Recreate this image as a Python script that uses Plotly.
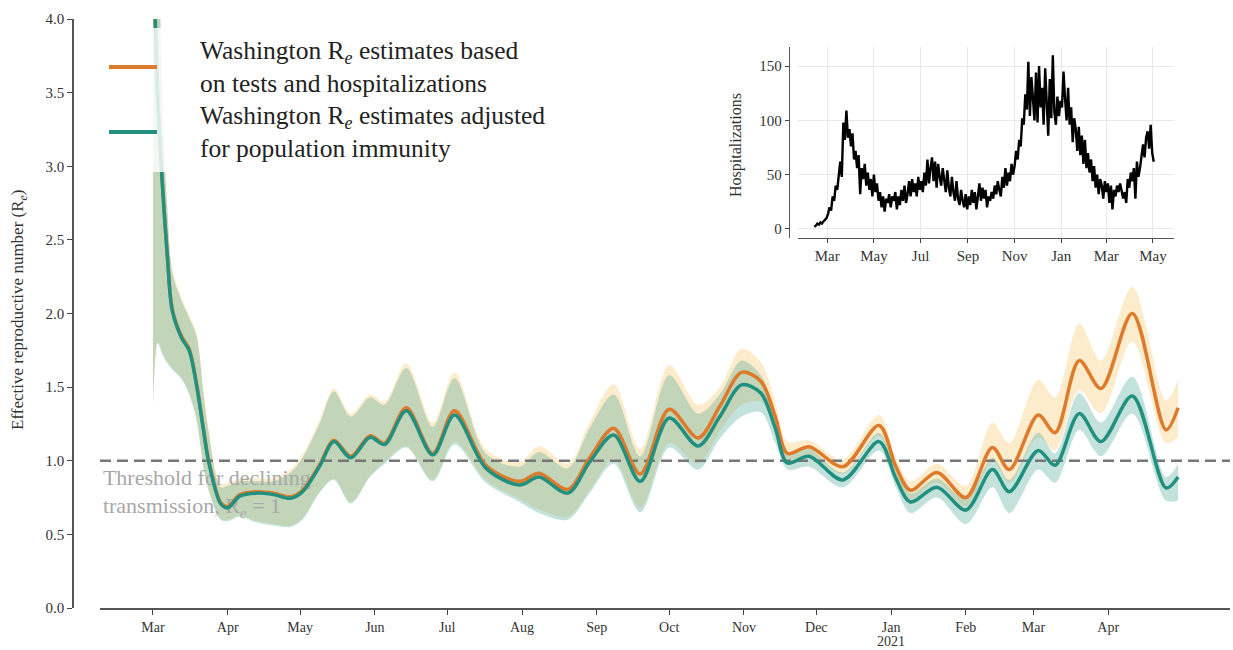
import plotly.graph_objects as go
import pandas as pd

W, H = 1233, 650
FONT = "Liberation Serif"

# ---------------- main chart data ----------------
DATES = [
    "2020-03-01", "2020-03-03", "2020-03-05", "2020-03-07", "2020-03-09", "2020-03-13",
    "2020-03-16", "2020-03-19", "2020-03-22", "2020-03-24", "2020-03-29", "2020-04-01",
    "2020-04-06", "2020-04-13", "2020-04-20", "2020-04-27", "2020-05-02", "2020-05-09",
    "2020-05-15", "2020-05-22", "2020-05-30", "2020-06-05", "2020-06-14", "2020-06-25",
    "2020-07-04", "2020-07-17", "2020-07-31", "2020-08-08", "2020-08-20", "2020-08-29",
    "2020-09-08", "2020-09-19", "2020-10-01", "2020-10-13", "2020-10-22", "2020-10-31",
    "2020-11-08", "2020-11-14", "2020-11-19", "2020-11-28", "2020-12-12", "2020-12-27",
    "2021-01-03", "2021-01-09", "2021-01-20", "2021-02-01", "2021-02-12", "2021-02-19",
    "2021-03-03", "2021-03-10", "2021-03-20", "2021-03-29", "2021-04-11", "2021-04-25",
    "2021-04-30",
]
RE_TESTS = [
    4.6, 3.46, 2.86, 2.39, 2.03, 1.84, 1.76, 1.53, 1.21, 1.01, 0.72, 0.69,
    0.77, 0.79, 0.78, 0.755, 0.80, 0.97, 1.14, 1.03, 1.17, 1.12, 1.36, 1.05,
    1.34, 0.97, 0.86, 0.915, 0.805, 1.02, 1.22, 0.91, 1.35, 1.155, 1.37, 1.60,
    1.54, 1.30, 1.05, 1.095, 0.96, 1.24, 0.96, 0.80, 0.92, 0.75, 1.09, 0.94,
    1.31, 1.19, 1.68, 1.49, 2.00, 1.21, 1.36,
]
RE_TESTS_LO = [
    1.38, 1.81, 1.73, 1.67, 1.63, 1.56, 1.46, 1.29, 0.96, 0.81, 0.61, 0.60,
    0.63, 0.59, 0.57, 0.56, 0.61, 0.79, 0.88, 0.72, 0.90, 0.99, 1.10, 0.87,
    1.13, 0.87, 0.74, 0.67, 0.62, 0.80, 1.01, 0.68, 1.12, 0.98, 1.20, 1.38,
    1.40, 1.20, 0.98, 1.04, 0.91, 1.17, 0.90, 0.74, 0.85, 0.69, 1.00, 0.85,
    1.16, 1.07, 1.48, 1.32, 1.81, 1.12, 1.16,
]
RE_TESTS_HI = [
    5.0, 4.6, 3.42, 2.72, 2.30, 2.10, 1.99, 1.87, 1.47, 1.22, 0.84, 0.85,
    0.88, 0.88, 0.88, 0.94, 1.04, 1.27, 1.49, 1.32, 1.45, 1.40, 1.66, 1.26,
    1.60, 1.08, 0.99, 1.10, 0.98, 1.26, 1.52, 1.08, 1.65, 1.38, 1.50, 1.76,
    1.67, 1.40, 1.13, 1.14, 1.01, 1.31, 1.02, 0.86, 0.98, 0.83, 1.26, 1.12,
    1.55, 1.43, 1.93, 1.68, 2.18, 1.41, 1.55,
]
RE_IMMUNE = [
    4.6, 3.45, 2.85, 2.38, 2.02, 1.83, 1.75, 1.52, 1.20, 1.00, 0.71, 0.68,
    0.76, 0.78, 0.77, 0.745, 0.79, 0.96, 1.13, 1.02, 1.16, 1.11, 1.34, 1.04,
    1.31, 0.95, 0.835, 0.89, 0.78, 0.99, 1.175, 0.86, 1.29, 1.10, 1.30, 1.515,
    1.46, 1.22, 0.985, 1.03, 0.87, 1.13, 0.88, 0.72, 0.82, 0.665, 0.94, 0.79,
    1.07, 0.97, 1.32, 1.13, 1.44, 0.815, 0.89,
]
RE_IMMUNE_LO = [
    1.37, 1.80, 1.72, 1.66, 1.62, 1.55, 1.45, 1.28, 0.95, 0.80, 0.60, 0.59,
    0.62, 0.58, 0.56, 0.55, 0.60, 0.78, 0.87, 0.71, 0.89, 0.98, 1.09, 0.86,
    1.11, 0.85, 0.72, 0.645, 0.60, 0.78, 0.98, 0.65, 1.09, 0.94, 1.15, 1.30,
    1.33, 1.12, 0.94, 0.96, 0.82, 1.07, 0.82, 0.645, 0.75, 0.57, 0.82, 0.645,
    0.94, 0.85, 1.21, 1.03, 1.32, 0.73, 0.73,
]
RE_IMMUNE_HI = [
    5.0, 4.6, 3.40, 2.70, 2.28, 2.08, 1.97, 1.85, 1.45, 1.20, 0.82, 0.83,
    0.86, 0.86, 0.86, 0.92, 1.02, 1.25, 1.47, 1.30, 1.43, 1.38, 1.63, 1.23,
    1.56, 1.05, 0.96, 1.06, 0.95, 1.22, 1.45, 1.03, 1.58, 1.32, 1.45, 1.68,
    1.58, 1.32, 1.05, 1.08, 0.92, 1.19, 0.93, 0.78, 0.88, 0.74, 1.02, 0.87,
    1.19, 1.05, 1.46, 1.26, 1.57, 0.89, 0.98,
]
THRESHOLD = 1.0

MONTH_TICKS = [
    "2020-03-01", "2020-04-01", "2020-05-01", "2020-06-01", "2020-07-01", "2020-08-01",
    "2020-09-01", "2020-10-01", "2020-11-01", "2020-12-01", "2021-01-01", "2021-02-01",
    "2021-03-01", "2021-04-01",
]
MONTH_LABELS = ["Mar", "Apr", "May", "Jun", "Jul", "Aug", "Sep", "Oct", "Nov", "Dec",
                "Jan", "Feb", "Mar", "Apr"]
YEAR_LABEL = ("2021-01-01", "2021")
Y_TICKS = [0.0, 0.5, 1.0, 1.5, 2.0, 2.5, 3.0, 3.5, 4.0]

LEGEND_TESTS = "Washington R<sub><i>e</i></sub> estimates based<br>on tests and hospitalizations"
LEGEND_IMMUNE = "Washington R<sub><i>e</i></sub> estimates adjusted<br>for population immunity"

# ---------------- inset data (every 2nd day from 2020-02-13) ----------------
HOSP_START = "2020-02-13"
HOSP = [
    # Feb 2020
    2, 3, 5, 4, 6, 5, 7, 9, 10,
    # Mar
    14, 20, 17, 30, 26, 40, 36, 52, 62, 48, 98, 82, 109, 84, 92,
    # Apr
    76, 88, 64, 72, 56, 68, 32, 56, 46, 60, 40, 52, 36, 46, 30,
    # May
    50, 34, 42, 26, 34, 20, 30, 16, 28, 24, 32, 20, 30, 26, 34, 18,
    # Jun
    30, 22, 36, 26, 40, 24, 32, 44, 30, 46, 34, 42, 30, 48, 36,
    # Jul
    44, 34, 52, 40, 64, 42, 56, 66, 44, 62, 38, 60, 48, 40, 56,
    # Aug
    44, 34, 54, 38, 30, 48, 34, 26, 44, 28, 22, 36, 26, 20, 32, 18,
    # Sep
    30, 22, 36, 24, 34, 18, 30, 42, 26, 38, 28, 36, 20, 30, 26,
    # Oct
    34, 28, 40, 32, 44, 36, 30, 48, 38, 56, 40, 52, 44, 60, 50,
    # Nov
    58, 72, 64, 82, 76, 102, 96, 124, 110, 154, 104, 140, 120, 100, 144,
    # Dec
    98, 150, 112, 130, 96, 148, 118, 86, 138, 102, 160, 108, 96, 122, 104, 118,
    # Jan 2021
    112, 145, 120, 100, 130, 96, 112, 80, 102, 92, 72, 94, 68, 86, 60,
    # Feb
    82, 56, 70, 52, 64, 44, 58, 38, 50, 32, 46, 40, 28, 44,
    # Mar
    34, 42, 24, 40, 18, 36, 30, 40, 34, 42, 36, 28, 34, 24, 46, 38,
    # Apr
    52, 44, 56, 28, 62, 48, 56, 68, 78, 66, 84, 90, 74, 96, 70,
    # May
    62,
]
HOSP_DATES = pd.date_range(HOSP_START, periods=len(HOSP), freq="2D")
INSET_TICKS = ["2020-03-01", "2020-05-01", "2020-07-01", "2020-09-01", "2020-11-01",
               "2021-01-01", "2021-03-01", "2021-05-01"]
INSET_LABELS = ["Mar", "May", "Jul", "Sep", "Nov", "Jan", "Mar", "May"]
INSET_YTICKS = [0, 50, 100, 150]

ORANGE = "#de7a2b"
TEAL = "#22907f"
ORANGE_BAND = "rgba(248,200,110,0.35)"
TEAL_BAND = "rgba(60,160,140,0.30)"

MAIN_XRANGE = ["2020-02-08 01:00", "2021-05-21 12:00"]
INSET_XRANGE = ["2020-01-22 17:00", "2021-05-28 12:00"]


def px(x):
    return x / W


def py(y):
    return 1 - y / H


fig = go.Figure()

SM = 0.9
# bands
fig.add_trace(go.Scatter(x=DATES, y=RE_TESTS_LO, mode="lines", line=dict(width=0, shape="spline", smoothing=SM),
                         hoverinfo="skip", showlegend=False))
fig.add_trace(go.Scatter(x=DATES, y=RE_TESTS_HI, mode="lines", line=dict(width=0, shape="spline", smoothing=SM),
                         fill="tonexty", fillcolor=ORANGE_BAND, hoverinfo="skip", showlegend=False))
fig.add_trace(go.Scatter(x=DATES, y=RE_IMMUNE_LO, mode="lines", line=dict(width=0, shape="spline", smoothing=SM),
                         hoverinfo="skip", showlegend=False))
fig.add_trace(go.Scatter(x=DATES, y=RE_IMMUNE_HI, mode="lines", line=dict(width=0, shape="spline", smoothing=SM),
                         fill="tonexty", fillcolor=TEAL_BAND, hoverinfo="skip", showlegend=False))

# threshold line and label
fig.add_trace(go.Scatter(x=MAIN_XRANGE, y=[THRESHOLD, THRESHOLD], mode="lines",
                         line=dict(color="#777777", width=2.5, dash="11px,6px"),
                         hoverinfo="skip", showlegend=False, cliponaxis=False))
fig.add_trace(go.Scatter(x=["2020-02-09 06:00"], y=[0.95], mode="text",
                         text=["Threshold for declining<br>transmission, R<sub><i>e</i></sub> = 1"],
                         textposition="bottom right",
                         textfont=dict(family=FONT, size=22, color="#a8a8a8"),
                         hoverinfo="skip", showlegend=False))

# estimate lines
fig.add_trace(go.Scatter(x=DATES, y=RE_TESTS, mode="lines",
                         line=dict(color=ORANGE, width=3.5, shape="spline", smoothing=SM),
                         name="tests", showlegend=False))
fig.add_trace(go.Scatter(x=DATES, y=RE_IMMUNE, mode="lines",
                         line=dict(color=TEAL, width=3.5, shape="spline", smoothing=SM),
                         name="immune", showlegend=False))

# inset
fig.add_trace(go.Scatter(x=HOSP_DATES, y=HOSP, mode="lines", xaxis="x2", yaxis="y2",
                         line=dict(color="black", width=2.4), showlegend=False))

fig.update_layout(
    width=W, height=H,
    margin=dict(l=0, r=0, t=0, b=0),
    paper_bgcolor="white", plot_bgcolor="rgba(0,0,0,0)",
    showlegend=False,
    xaxis=dict(domain=[px(100), px(1230)], range=MAIN_XRANGE, type="date", anchor="y",
               tickmode="array", tickvals=MONTH_TICKS, ticktext=MONTH_LABELS,
               ticks="outside", ticklen=5, tickwidth=1.2, tickcolor="#444",
               showline=True, linecolor="#555", linewidth=1.6, showgrid=False, zeroline=False,
               tickfont=dict(family=FONT, size=14, color="#333"), automargin=False),
    yaxis=dict(domain=[py(608), py(19)], range=[0, 4], anchor="free", position=px(73),
               tickmode="array", tickvals=Y_TICKS, ticktext=[f"{v:.1f}" for v in Y_TICKS],
               ticks="outside", ticklen=5, tickwidth=1.2, tickcolor="#444",
               showline=True, linecolor="#555", linewidth=1.6, showgrid=False, zeroline=False,
               tickfont=dict(family=FONT, size=15, color="#333"), automargin=False),
    xaxis2=dict(domain=[px(798), px(1174)], range=INSET_XRANGE, type="date", anchor="y2",
                tickmode="array", tickvals=INSET_TICKS, ticktext=INSET_LABELS,
                ticks="outside", ticklen=4, tickcolor="#444",
                showline=True, linecolor="#555", linewidth=1.4,
                showgrid=True, gridcolor="#e8e8e8", gridwidth=1, zeroline=False,
                tickfont=dict(family=FONT, size=15, color="#333"), automargin=False),
    yaxis2=dict(domain=[py(238), py(47)], range=[-8.3, 167.6], anchor="free", position=px(789),
                tickmode="array", tickvals=INSET_YTICKS,
                ticks="outside", ticklen=4, tickcolor="#444",
                showline=True, linecolor="#555", linewidth=1.4,
                showgrid=True, gridcolor="#e8e8e8", gridwidth=1, zeroline=False,
                tickfont=dict(family=FONT, size=15, color="#333"), automargin=False),
)

# year label under the January tick
fig.add_annotation(xref="x", yref="paper", showarrow=False, x=YEAR_LABEL[0], y=py(641),
                   text=YEAR_LABEL[1], xanchor="center", yanchor="middle",
                   font=dict(family=FONT, size=14, color="#333"))

# legend (manual) with translucent white background
fig.add_shape(type="rect", xref="paper", yref="paper", x0=px(100), x1=px(560), y0=py(172), y1=py(28),
              fillcolor="rgba(255,255,255,0.82)", line=dict(width=0), layer="above")
fig.add_shape(type="line", xref="paper", yref="paper", x0=px(109), x1=px(157), y0=py(67), y1=py(67),
              line=dict(color=ORANGE, width=4), layer="above")
fig.add_shape(type="line", xref="paper", yref="paper", x0=px(109), x1=px(157), y0=py(132), y1=py(132),
              line=dict(color=TEAL, width=4), layer="above")

legend_font = dict(family=FONT, size=25.5, color="#222")
for text, yc in zip([LEGEND_TESTS, LEGEND_IMMUNE], [67, 132]):
    fig.add_annotation(xref="paper", yref="paper", showarrow=False, x=px(198), y=py(yc), text=text,
                       xanchor="left", yanchor="middle", align="left", font=legend_font)

fig.add_annotation(xref="paper", yref="paper", showarrow=False, x=px(19), y=py(310),
                   text="Effective reproductive number (R<sub><i>e</i></sub>)", textangle=-90,
                   xanchor="center", yanchor="middle", font=dict(family=FONT, size=17, color="#333"))
fig.add_annotation(xref="paper", yref="paper", showarrow=False, x=px(736), y=py(145),
                   text="Hospitalizations", textangle=-90,
                   xanchor="center", yanchor="middle", font=dict(family=FONT, size=16, color="#333"))

fig.write_html("out.html")
